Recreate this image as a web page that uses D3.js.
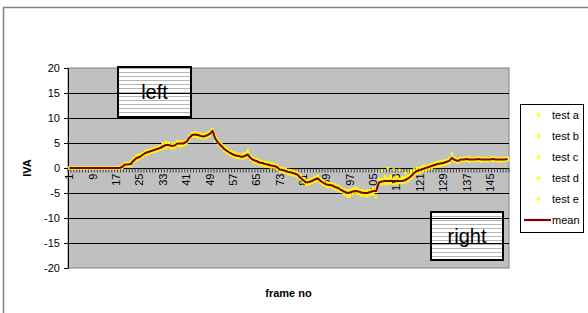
<!DOCTYPE html>
<html>
<head>
<meta charset="utf-8">
<script src="https://cdn.jsdelivr.net/npm/d3@7"></script>
<style>
  body { margin: 0; background: #fff; }
  svg { display: block; font-family: "Liberation Sans", Arial, sans-serif; }
</style>
</head>
<body>
<div class="board"></div>
<script>
// frame numbers 1..151
const frames = d3.range(1, 152);
const yTicks = [-20, -15, -10, -5, 0, 5, 10, 15, 20];
const seriesNames = ["test a", "test b", "test c", "test d", "test e"];

const mean = [
  0,0,0,0,0,0,0,0,0,0,
  0,0,0,0,0,0,0,0,0.2,0.7,
  0.7,0.8,1.5,2.0,2.2,2.6,3.0,3.2,3.4,3.6,
  3.8,4.0,4.3,4.6,4.6,4.4,4.5,4.9,4.9,4.9,
  5.2,6.0,6.6,6.7,6.6,6.4,6.3,6.5,6.8,7.4,
  5.8,5.0,4.4,3.8,3.4,3.0,2.7,2.5,2.4,2.2,
  2.4,2.7,2.0,1.6,1.4,1.1,1.0,0.8,0.7,0.5,
  0.4,0.2,-0.3,-0.4,-0.6,-0.8,-0.9,-1.1,-1.3,-1.9,
  -2.4,-2.9,-2.8,-2.6,-2.3,-2.1,-2.6,-3.0,-3.3,-3.4,
  -3.5,-3.8,-4.0,-4.4,-4.7,-5.0,-4.9,-4.7,-4.6,-4.7,
  -4.9,-5.0,-5.0,-4.8,-4.6,-4.6,-2.9,-2.7,-2.6,-2.6,
  -2.6,-2.6,-2.6,-2.6,-2.6,-2.4,-2.1,-1.6,-1.0,-0.6,
  -0.4,-0.2,0.0,0.2,0.4,0.6,0.8,0.9,1.0,1.2,
  1.4,2.0,1.6,1.4,1.7,1.7,1.8,1.7,1.7,1.7,
  1.8,1.7,1.7,1.7,1.7,1.8,1.7,1.7,1.7,1.7,
  1.8
];

const testA = [
  0,0,0,0,0,0,0,0,0,0,
  0,0,0,0,0,0,0,0.3,0.5,0.9,
  0.4,1.2,1.9,2.3,2.6,2.3,3.3,3.6,3.1,4.0,
  4.1,3.7,4.9,5.2,4.3,4.8,4.1,5.3,4.6,5.2,
  5.0,6.4,7.0,6.3,6.9,6.0,6.7,6.2,7.2,7.6,
  6.2,4.6,4.8,3.4,3.8,2.6,3.1,2.1,2.8,1.9,
  2.9,3.5,1.7,2.0,1.0,1.5,0.6,1.2,0.3,0.9,
  0.1,0.6,-0.7,0.0,-0.9,-0.4,-1.3,-0.7,-1.7,-1.5,
  -2.8,-2.5,-3.3,-2.2,-2.7,-1.6,-3.0,-2.6,-3.8,-3.0,
  -3.9,-3.3,-4.5,-4.0,-5.2,-4.5,-5.4,-4.2,-5.1,-4.3,
  -5.5,-4.6,-5.6,-4.3,-5.3,-4.0,-2.2,-3.2,-2.0,-3.1,
  -2.0,-3.2,-1.9,-3.0,-2.1,-1.8,-2.6,-1.0,-1.5,-0.1,
  -0.9,0.3,-0.5,0.6,0.0,1.0,0.3,1.3,0.6,1.6,
  1.0,2.9,1.3,1.8,1.4,2.0,1.5,2.1,1.4,2.0,
  1.5,2.0,1.4,2.0,1.5,2.1,1.5,2.0,1.4,2.0,
  1.6
];

const testB = [
  0,0,0,0,0,0,0,0,0,0,
  0,0,0,0,0,0,0,0,0,0.4,
  1.0,0.4,1.1,2.5,1.8,3.0,2.7,2.8,3.8,3.3,
  3.4,4.4,3.9,4.2,5.0,3.9,4.9,4.5,5.3,4.5,
  5.6,5.7,6.2,7.1,6.2,6.8,5.9,6.9,6.4,7.1,
  5.4,5.4,4.0,4.2,3.0,3.4,2.3,2.9,2.0,2.6,
  2.0,2.2,2.4,1.2,1.8,0.7,1.4,0.4,1.1,0.1,
  0.8,-0.2,0.1,-0.8,-0.2,-1.2,-0.5,-1.5,-0.9,-2.3,
  -2.0,-3.3,-2.4,-3.0,-1.9,-2.5,-2.2,-3.4,-2.9,-3.8,
  -3.1,-4.2,-3.6,-4.8,-4.3,-5.6,-4.4,-5.1,-4.0,-5.2,
  -4.4,-5.5,-4.5,-5.3,-4.1,-5.9,-3.3,-2.2,-3.1,-2.1,
  -3.0,-2.1,-3.1,-2.2,-3.0,-2.8,-1.7,-2.1,-0.6,-1.0,
  0.0,-0.6,0.4,-0.2,0.8,0.2,1.2,0.5,1.4,0.8,
  1.8,1.6,2.0,1.0,2.0,1.4,2.1,1.3,2.0,1.4,
  2.1,1.3,2.0,1.4,2.0,1.4,2.1,1.3,2.0,1.4,
  2.1
];

const testC = [
  0,0,0,0,0,0,0,0,0,0,
  0,0,0,0,0,0,0,0.1,0.3,1.0,
  0.9,1.1,2.0,1.6,2.7,2.2,3.4,2.9,3.7,3.2,
  4.2,3.6,4.8,4.0,4.9,4.1,4.6,5.3,4.4,4.6,
  5.5,6.3,6.3,7.0,6.4,6.7,6.6,6.1,6.9,7.0,
  6.4,4.7,4.1,3.5,3.7,2.8,2.9,2.2,2.7,2.6,
  2.1,3.0,2.3,1.4,1.2,1.3,0.7,1.0,0.4,0.8,
  0.6,0.4,-0.1,-0.6,-0.3,-0.9,-1.2,-0.8,-1.6,-2.1,
  -2.6,-2.7,-3.1,-2.4,-2.6,-2.0,-2.9,-2.8,-3.6,-3.2,
  -3.7,-4.0,-3.8,-4.6,-4.9,-4.8,-5.7,-4.5,-4.8,-4.5,
  -5.1,-4.8,-5.3,-4.6,-4.9,-4.4,-2.7,-0.5,-1.7,0.0,
  -1.6,-0.3,-1.7,-0.4,-1.8,-1.0,-1.5,-0.6,-0.3,0.0,
  -0.2,0.2,0.3,0.0,0.6,0.8,0.6,1.1,1.2,1.0,
  1.2,1.9,1.8,1.2,1.9,1.8,1.6,1.9,1.9,1.5,
  1.7,1.9,1.5,1.8,1.9,1.6,1.9,1.8,1.5,1.9,
  1.7
];

const testD = [
  0,0,0,0,0,0,0,0,0,0,
  0,0,0,0,0,0,0,0,0.2,0.5,
  0.6,0.5,1.3,1.8,2.5,2.9,2.8,3.5,3.2,3.9,
  3.6,4.3,4.0,4.9,4.4,4.6,4.3,4.7,5.1,4.8,
  4.9,6.2,6.8,6.5,6.8,6.2,6.4,6.7,6.5,7.8,
  5.6,5.2,4.6,3.6,3.2,3.2,2.5,2.7,2.2,2.4,
  2.6,2.5,1.8,1.9,1.6,0.9,1.2,0.6,0.9,0.3,
  0.3,0.0,-0.4,-0.2,-0.8,-0.6,-1.0,-1.3,-1.2,-1.7,
  -2.5,-3.1,-2.6,-2.8,-2.5,-2.3,-2.4,-3.2,-3.1,-3.6,
  -3.3,-3.6,-4.2,-4.2,-4.5,-5.2,-4.7,-4.9,-4.4,-4.9,
  -4.7,-5.2,-4.8,-5.0,-4.4,-4.8,-3.1,-2.9,-2.8,-2.4,
  -2.8,-2.4,-2.7,-2.4,-2.8,-2.2,-2.3,-1.4,-1.2,-0.8,
  -0.6,-0.1,-0.2,0.4,0.2,0.6,1.0,0.7,0.8,1.4,
  1.2,2.2,1.5,1.6,1.6,1.8,1.6,1.8,1.6,1.8,
  1.6,1.8,1.6,1.8,1.6,1.7,1.8,1.6,1.8,1.6,
  1.8
];

const testE = [
  0,0,0,0,0,0,0,0,0,0,
  0,0,0,0,0,0,0,0,0.1,0.6,
  0.8,0.9,1.6,1.9,2.0,2.7,3.1,3.3,3.3,3.7,
  3.9,3.9,4.2,4.7,4.5,4.3,4.7,4.8,4.8,5.0,
  5.3,5.8,6.5,6.9,6.5,6.5,6.2,6.6,6.9,7.2,
  5.9,4.9,4.5,3.9,3.3,3.0,2.8,2.4,2.5,2.1,
  2.3,2.8,1.9,1.5,1.3,1.2,0.9,0.9,0.6,0.6,
  0.3,0.2,-0.2,-0.5,-0.5,-0.8,-0.8,-1.2,-1.4,-1.8,
  -2.3,-3.0,-2.7,-2.5,-2.4,-2.0,-2.7,-3.0,-3.3,-3.3,
  -3.6,-3.8,-4.1,-4.3,-4.8,-4.9,-5.0,-4.6,-4.7,-4.6,
  -4.8,-5.1,-4.9,-4.9,-4.5,-4.7,-3.0,-2.6,-2.7,-2.5,
  -2.7,-2.5,-2.5,-2.7,-2.5,-2.3,-2.2,-1.5,-1.1,-0.5,
  -0.5,-0.3,0.1,0.1,0.5,0.5,0.9,0.8,1.1,1.1,
  1.5,1.9,1.7,1.3,1.8,1.7,1.7,1.8,1.6,1.7,
  1.8,1.6,1.7,1.7,1.8,1.7,1.6,1.7,1.8,1.7,
  1.8
];

const tests = [testA, testB, testC, testD, testE];

const width = 588;
const height = 313;
const plotLeft = 68, plotRight = 509, plotTop = 68, plotBottom = 268;

const svg = d3.select(".board")
  .append("svg")
  .attr("width", width)
  .attr("height", height);

// outer chart frame
svg.append("rect")
  .attr("x", 3.5).attr("y", 7.5)
  .attr("width", width + 10).attr("height", height + 10)
  .attr("fill", "#fff")
  .attr("stroke", "#808080")
  .attr("stroke-width", 1.5);

const x = d3.scaleBand().domain(frames).range([plotLeft, plotRight]);
const y = d3.scaleLinear().domain([-20, 20]).range([plotBottom, plotTop]);

// stripe pattern for the text boxes
const pat = svg.append("defs").append("pattern")
  .attr("id", "stripes")
  .attr("patternUnits", "userSpaceOnUse")
  .attr("width", 6).attr("height", 4);
pat.append("rect").attr("width", 6).attr("height", 4).attr("fill", "#fff");
pat.append("line").attr("x1", 0).attr("x2", 6).attr("y1", 0.5).attr("y2", 0.5)
  .attr("stroke", "#b4b4b4").attr("stroke-width", 1);

// plot area
svg.append("rect")
  .attr("x", plotLeft).attr("y", plotTop)
  .attr("width", plotRight - plotLeft).attr("height", plotBottom - plotTop)
  .attr("fill", "#c0c0c0")
  .attr("stroke", "#808080")
  .attr("stroke-width", 1);

// text boxes
const boxes = [
  { label: "left", x0: 118, y0: 67, w: 73, h: 50 },
  { label: "right", x0: 431, y0: 212, w: 72, h: 48 }
];
const boxG = svg.selectAll("g.box").data(boxes).enter().append("g").attr("class", "box");
boxG.append("rect")
  .attr("x", d => d.x0).attr("y", d => d.y0)
  .attr("width", d => d.w).attr("height", d => d.h)
  .attr("fill", "url(#stripes)")
  .attr("stroke", "#000").attr("stroke-width", 2);
boxG.append("text")
  .attr("x", d => d.x0 + d.w / 2).attr("y", d => d.y0 + d.h / 2 + 7)
  .attr("text-anchor", "middle")
  .attr("font-size", 20)
  .text(d => d.label);

// gridlines
svg.append("g")
  .selectAll("line")
  .data(yTicks.filter(v => v !== 0 && Math.abs(v) !== 20))
  .enter().append("line")
  .attr("x1", plotLeft).attr("x2", plotRight)
  .attr("y1", d => Math.round(y(d)) + 0.5).attr("y2", d => Math.round(y(d)) + 0.5)
  .attr("stroke", "#000").attr("stroke-width", 1);

// y axis
const yAxis = svg.append("g")
  .attr("transform", `translate(${plotLeft},0)`)
  .call(d3.axisLeft(y).tickValues(yTicks).tickSize(4).tickSizeOuter(0)
    .tickFormat(d => String(d)));
yAxis.select(".domain").attr("stroke", "#000");
yAxis.selectAll("text").attr("font-size", 11).attr("font-family", "Liberation Sans, Arial, sans-serif").attr("dx", -1);

// x axis at zero
const y0 = Math.round(y(0)) + 0.5;
svg.append("line")
  .attr("x1", plotLeft).attr("x2", plotRight).attr("y1", y0).attr("y2", y0)
  .attr("stroke", "#000");
svg.append("g")
  .selectAll("line")
  .data(frames.concat([152]))
  .enter().append("line")
  .attr("x1", d => d <= 151 ? x(d) : plotRight)
  .attr("x2", d => d <= 151 ? x(d) : plotRight)
  .attr("y1", y0).attr("y2", y0 + 4)
  .attr("stroke", "#333").attr("stroke-width", 0.9);

const xLabels = svg.append("g")
  .attr("transform", `translate(0,${y0})`)
  .call(d3.axisBottom(x).tickValues(frames.filter(f => (f - 1) % 8 === 0)).tickSize(0));
xLabels.select(".domain").remove();
xLabels.selectAll("text")
  .attr("font-size", 11)
  .attr("font-family", "Liberation Sans, Arial, sans-serif")
  .attr("transform", "rotate(-90)")
  .attr("text-anchor", "end")
  .attr("x", -5).attr("y", 0).attr("dy", "0.35em");

// test series markers
tests.forEach(function(series) {
  svg.append("g")
    .selectAll("rect")
    .data(series)
    .enter().append("rect")
    .attr("x", (d, i) => x(frames[i]) + x.bandwidth() / 2 - 1.25)
    .attr("y", d => y(d) - 1.25)
    .attr("width", 2.5).attr("height", 2.5)
    .attr("fill", "#ffff00");
});

// mean line
svg.append("path")
  .datum(mean)
  .attr("fill", "none")
  .attr("stroke", "#800000")
  .attr("stroke-width", 2)
  .attr("d", d3.line()
    .x((d, i) => x(frames[i]) + x.bandwidth() / 2)
    .y(d => y(d)));

// axis titles
svg.append("text")
  .attr("x", (plotLeft + plotRight) / 2).attr("y", 297)
  .attr("text-anchor", "middle")
  .attr("font-size", 11).attr("font-weight", "bold")
  .text("frame no");
svg.append("text")
  .attr("transform", `translate(31,${y(0)}) rotate(-90)`)
  .attr("text-anchor", "middle")
  .attr("font-size", 11).attr("font-weight", "bold")
  .text("IVA");

// legend
const legend = svg.append("g");
legend.append("rect")
  .attr("x", 520.5).attr("y", 104.5).attr("width", 63).attr("height", 128)
  .attr("fill", "#fff").attr("stroke", "#000");
const items = seriesNames.concat(["mean"]);
const li = legend.selectAll("g.item").data(items).enter().append("g")
  .attr("transform", (d, i) => `translate(0,${115 + i * 21})`);
li.filter(d => d !== "mean").append("rect")
  .attr("x", 537).attr("y", -1.5).attr("width", 3).attr("height", 3)
  .attr("fill", "#ffff00");
li.filter(d => d === "mean").append("line")
  .attr("x1", 524).attr("x2", 551).attr("y1", 0).attr("y2", 0)
  .attr("stroke", "#800000").attr("stroke-width", 2.2);
li.append("text")
  .attr("x", 552).attr("y", 4)
  .attr("font-size", 11)
  .text(d => d);
</script>
</body>
</html>
